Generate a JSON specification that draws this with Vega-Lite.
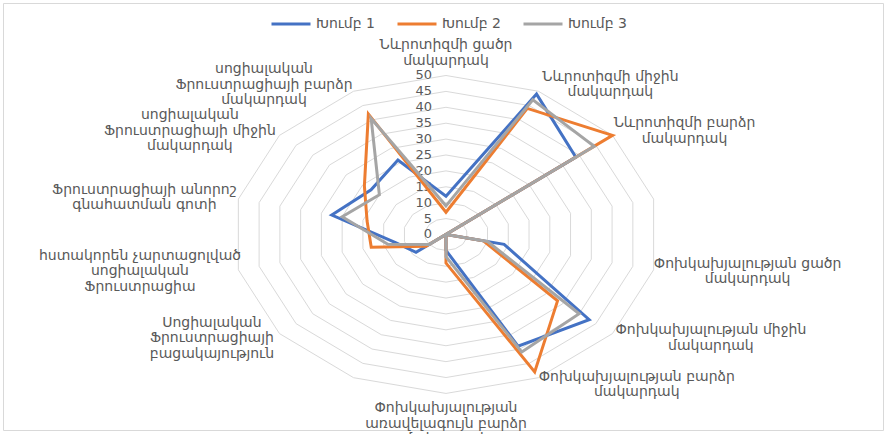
{
  "$schema": "https://vega.github.io/schema/vega-lite/v6.json",
  "width": 880,
  "height": 427,
  "autosize": {"type": "none"},
  "padding": {"left": 3, "top": 3, "right": 5, "bottom": 4},
  "background": "white",
  "config": {"view": {"stroke": "#D9D9D9", "strokeWidth": 1}, "font": "DejaVu Sans"},
  "datasets": {
    "cats": [
      {"order": 0, "label": "Նևրոտիզմի ցածր\nմակարդակ"},
      {"order": 1, "label": "Նևրոտիզմի միջին\nմակարդակ"},
      {"order": 2, "label": "Նևրոտիզմի բարձր\nմակարդակ"},
      {"order": 3, "label": ""},
      {"order": 4, "label": "Փոխկախյալության ցածր\nմակարդակ"},
      {"order": 5, "label": "Փոխկախյալության միջին\nմակարդակ"},
      {"order": 6, "label": "Փոխկախյալության բարձր\nմակարդակ"},
      {"order": 7, "label": "Փոխկախյալության\nառավելագույն բարձր\nմակարդակ"},
      {"order": 8, "label": ""},
      {"order": 9, "label": "Սոցիալական\nՖրուստրացիայի\nբացակայություն"},
      {"order": 10, "label": "հստակորեն չարտացոլված\nսոցիալական\nՖրուստրացիա"},
      {"order": 11, "label": "Ֆրուստրացիայի անորոշ\nգնահատման գոտի"},
      {"order": 12, "label": "սոցիալական\nՖրուստրացիայի միջին\nմակարդակ"},
      {"order": 13, "label": "սոցիալական\nՖրուստրացիայի բարձր\nմակարդակ"}
    ],
    "ticks": [{"v": 0}, {"v": 5}, {"v": 10}, {"v": 15}, {"v": 20}, {"v": 25}, {"v": 30}, {"v": 35}, {"v": 40}, {"v": 45}, {"v": 50}],
    "scores": [
      {"group": "Խումբ 1", "order": 0, "value": 12},
      {"group": "Խումբ 1", "order": 1, "value": 49},
      {"group": "Խումբ 1", "order": 2, "value": 39},
      {"group": "Խումբ 1", "order": 3, "value": 0},
      {"group": "Խումբ 1", "order": 4, "value": 14},
      {"group": "Խումբ 1", "order": 5, "value": 43},
      {"group": "Խումբ 1", "order": 6, "value": 39},
      {"group": "Խումբ 1", "order": 7, "value": 5},
      {"group": "Խումբ 1", "order": 8, "value": 0},
      {"group": "Խումբ 1", "order": 9, "value": 9},
      {"group": "Խումբ 1", "order": 10, "value": 12},
      {"group": "Խումբ 1", "order": 11, "value": 27.5},
      {"group": "Խումբ 1", "order": 12, "value": 22.5},
      {"group": "Խումբ 1", "order": 13, "value": 26},
      {"group": "Խումբ 2", "order": 0, "value": 7},
      {"group": "Խումբ 2", "order": 1, "value": 44},
      {"group": "Խումբ 2", "order": 2, "value": 50},
      {"group": "Խումբ 2", "order": 3, "value": 0},
      {"group": "Խումբ 2", "order": 4, "value": 9},
      {"group": "Խումբ 2", "order": 5, "value": 33.5},
      {"group": "Խումբ 2", "order": 6, "value": 48},
      {"group": "Խումբ 2", "order": 7, "value": 9},
      {"group": "Խումբ 2", "order": 8, "value": 0},
      {"group": "Խումբ 2", "order": 9, "value": 6},
      {"group": "Խումբ 2", "order": 10, "value": 18},
      {"group": "Խումբ 2", "order": 11, "value": 19},
      {"group": "Խումբ 2", "order": 12, "value": 24.5},
      {"group": "Խումբ 2", "order": 13, "value": 42},
      {"group": "Խումբ 3", "order": 0, "value": 9},
      {"group": "Խումբ 3", "order": 1, "value": 47},
      {"group": "Խումբ 3", "order": 2, "value": 44.5},
      {"group": "Խումբ 3", "order": 3, "value": 0},
      {"group": "Խումբ 3", "order": 4, "value": 10},
      {"group": "Խումբ 3", "order": 5, "value": 40},
      {"group": "Խումբ 3", "order": 6, "value": 41},
      {"group": "Խումբ 3", "order": 7, "value": 7},
      {"group": "Խումբ 3", "order": 8, "value": 0},
      {"group": "Խումբ 3", "order": 9, "value": 5},
      {"group": "Խումբ 3", "order": 10, "value": 14},
      {"group": "Խումբ 3", "order": 11, "value": 25},
      {"group": "Խումբ 3", "order": 12, "value": 20},
      {"group": "Խումբ 3", "order": 13, "value": 40.5}
    ]
  },
  "layer": [
    {
      "data": {"name": "cats"},
      "transform": [
        {"calculate": "[5,10,15,20,25,30,35,40,45,50]", "as": "levels"},
        {"flatten": ["levels"], "as": ["level"]},
        {"calculate": "datum.order*2*PI/14", "as": "a"},
        {"calculate": "datum.level*sin(datum.a)", "as": "px"},
        {"calculate": "datum.level*cos(datum.a)", "as": "py"}
      ],
      "mark": {"type": "line", "interpolate": "linear-closed", "stroke": "#D9D9D9", "strokeWidth": 1},
      "encoding": {
        "x": {"field": "px", "type": "quantitative", "scale": {"domain": [-104, 102.6], "nice": false, "zero": false}, "axis": null},
        "y": {"field": "py", "type": "quantitative", "scale": {"domain": [-61.5, 72.8], "nice": false, "zero": false}, "axis": null},
        "detail": {"field": "level"},
        "order": {"field": "order"}
      }
    },
    {
      "data": {"name": "ticks"},
      "mark": {"type": "text", "align": "right", "baseline": "middle", "dx": -14, "fontSize": 13, "color": "#595959"},
      "encoding": {
        "x": {"datum": 0, "type": "quantitative"},
        "y": {"field": "v", "type": "quantitative"},
        "text": {"field": "v", "type": "quantitative"}
      }
    },
    {
      "data": {"name": "cats"},
      "transform": [
        {"calculate": "datum.order*2*PI/14", "as": "a"},
        {"filter": "abs(sin(datum.a)) > 0.1"},
        {"calculate": "split(datum.label, '\\n')", "as": "lines"},
        {"calculate": "max(length(datum.lines[0]), datum.lines.length > 1 ? length(datum.lines[1]) : 0, datum.lines.length > 2 ? length(datum.lines[2]) : 0)", "as": "w"},
        {"calculate": "50*sin(datum.a) + (sin(datum.a) > 0 ? 1 : -1)*(6 + datum.w*4.4)/4.26", "as": "px"},
        {"calculate": "52.3*cos(datum.a) + (datum.lines.length - 1)*7.75/3.18", "as": "py"}
      ],
      "mark": {"type": "text", "align": "center", "baseline": "middle", "fontSize": 14, "lineHeight": 15.5, "lineBreak": "\n", "color": "#595959"},
      "encoding": {
        "x": {"field": "px", "type": "quantitative"},
        "y": {"field": "py", "type": "quantitative"},
        "text": {"field": "label"}
      }
    },
    {
      "data": {"name": "cats"},
      "transform": [{"filter": "datum.order == 0"}],
      "mark": {"type": "text", "align": "center", "baseline": "middle", "dy": -30, "fontSize": 14, "lineHeight": 15.5, "lineBreak": "\n", "color": "#595959"},
      "encoding": {
        "x": {"datum": 0, "type": "quantitative"},
        "y": {"datum": 50, "type": "quantitative"},
        "text": {"field": "label"}
      }
    },
    {
      "data": {"name": "cats"},
      "transform": [{"filter": "datum.order == 7"}],
      "mark": {"type": "text", "align": "center", "baseline": "middle", "dy": 15, "fontSize": 14, "lineHeight": 15.5, "lineBreak": "\n", "color": "#595959"},
      "encoding": {
        "x": {"datum": 0, "type": "quantitative"},
        "y": {"datum": -50, "type": "quantitative"},
        "text": {"field": "label"}
      }
    },
    {
      "data": {"name": "scores"},
      "transform": [
        {"calculate": "datum.order*2*PI/14", "as": "a"},
        {"calculate": "datum.value*sin(datum.a)", "as": "px"},
        {"calculate": "datum.value*cos(datum.a)", "as": "py"}
      ],
      "mark": {"type": "line", "interpolate": "linear-closed", "strokeWidth": 3},
      "encoding": {
        "x": {"field": "px", "type": "quantitative"},
        "y": {"field": "py", "type": "quantitative"},
        "color": {
          "field": "group",
          "type": "nominal",
          "scale": {"domain": ["Խումբ 1", "Խումբ 2", "Խումբ 3"], "range": ["#4472C4", "#ED7D31", "#A5A5A5"]},
          "legend": {
            "title": null,
            "orient": "none",
            "direction": "horizontal",
            "legendX": 267,
            "legendY": 0,
            "symbolType": "stroke",
            "symbolSize": 1521,
            "symbolStrokeWidth": 3,
            "labelFontSize": 14,
            "labelColor": "#595959",
            "labelFont": "DejaVu Sans",
            "labelOffset": 4,
            "columnPadding": 16,
            "padding": 0
          }
        },
        "order": {"field": "order"}
      }
    }
  ]
}
